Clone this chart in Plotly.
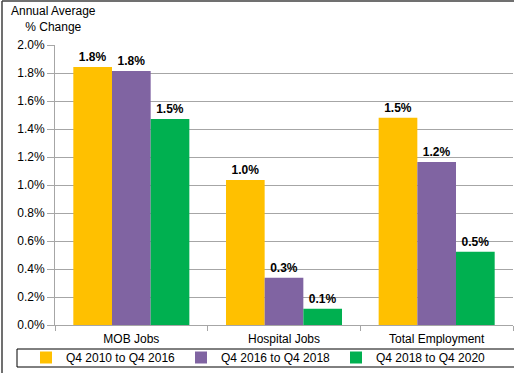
import plotly.graph_objects as go

categories = ["MOB Jobs", "Hospital Jobs", "Total Employment"]
series_names = ["Q4 2010 to Q4 2016", "Q4 2016 to Q4 2018", "Q4 2018 to Q4 2020"]
q4_2010_2016 = [1.843, 1.036, 1.481]
q4_2016_2018 = [1.814, 0.338, 1.164]
q4_2018_2020 = [1.471, 0.116, 0.524]
y_ticks = [0.0, 0.2, 0.4, 0.6, 0.8, 1.0, 1.2, 1.4, 1.6, 1.8, 2.0]

colors = ["#FFC000", "#8064A2", "#00B050"]
font_family = "Liberation Sans, Arial, sans-serif"

# plot area in pixels: x 55..513, y 45..325
PX_L, PX_R, PX_T, PX_B = 55, 513, 45, 325
W, H = PX_R - PX_L, PX_B - PX_T


def px_x(px):
    return (px - PX_L) / W


def px_y(py):
    return (PX_B - py) / H


fig = go.Figure()
for name, vals, col in zip(series_names, [q4_2010_2016, q4_2016_2018, q4_2018_2020], colors):
    fig.add_trace(go.Bar(
        x=categories, y=vals, name=name,
        marker=dict(color=col, line=dict(width=0)),
        texttemplate="%{y:.1f}%", textposition="outside",
        textfont=dict(family=font_family, size=12, color="#000000", weight="bold"),
        cliponaxis=False,
    ))

fig.update_layout(
    width=514, height=373,
    margin=dict(l=PX_L, r=514 - PX_R, t=PX_T, b=373 - PX_B, autoexpand=False),
    paper_bgcolor="white", plot_bgcolor="white",
    barmode="group", bargap=0.24, bargroupgap=0,
    font=dict(family=font_family, size=12, color="#000000"),
    showlegend=True,
    legend=dict(
        orientation="h", x=px_x(26), xanchor="left", y=px_y(343), yanchor="top",
        borderwidth=0, bgcolor="rgba(0,0,0,0)",
        font=dict(family=font_family, size=12, color="#000000"),
        entrywidth=110, entrywidthmode="pixels",
        itemwidth=30, tracegroupgap=0,
    ),
)

fig.update_yaxes(
    range=[0, 2.0], tickvals=y_ticks,
    ticktext=[f"{v:.1f}%" for v in y_ticks],
    showgrid=True, gridcolor="#A6A6A6", gridwidth=1,
    showline=True, linecolor="#A6A6A6", linewidth=1,
    ticks="outside", ticklen=7, tickcolor="#A6A6A6",
    tickfont=dict(family=font_family, size=12, color="#000000"),
    zeroline=False, fixedrange=True,
)
fig.update_xaxes(
    showline=True, linecolor="#A6A6A6", linewidth=1,
    ticks="outside", ticklen=5, tickcolor="#A6A6A6", tickson="boundaries",
    ticklabelstandoff=3,
    tickfont=dict(family=font_family, size=12, color="#000000"),
    fixedrange=True,
)

# axis title in the top-left corner
fig.add_annotation(
    text="Annual Average<br>% Change", xref="paper", yref="paper",
    x=px_x(53), y=px_y(19), xanchor="center", yanchor="middle",
    showarrow=False, align="center",
    font=dict(family=font_family, size=12, color="#000000"),
)

# legend frame
fig.add_shape(type="rect", xref="paper", yref="paper",
              x0=px_x(17), x1=px_x(530), y0=px_y(349), y1=px_y(367),
              line=dict(color="#000000", width=1), layer="below")

# chart frame (top and left edges)
fig.add_shape(type="line", xref="paper", yref="paper",
              x0=px_x(2), x1=px_x(530), y0=px_y(1), y1=px_y(1),
              line=dict(color="#404040", width=1.5))
fig.add_shape(type="line", xref="paper", yref="paper",
              x0=px_x(2), x1=px_x(2), y0=px_y(1), y1=px_y(380),
              line=dict(color="#404040", width=1.5))

fig.write_html("out.html")
